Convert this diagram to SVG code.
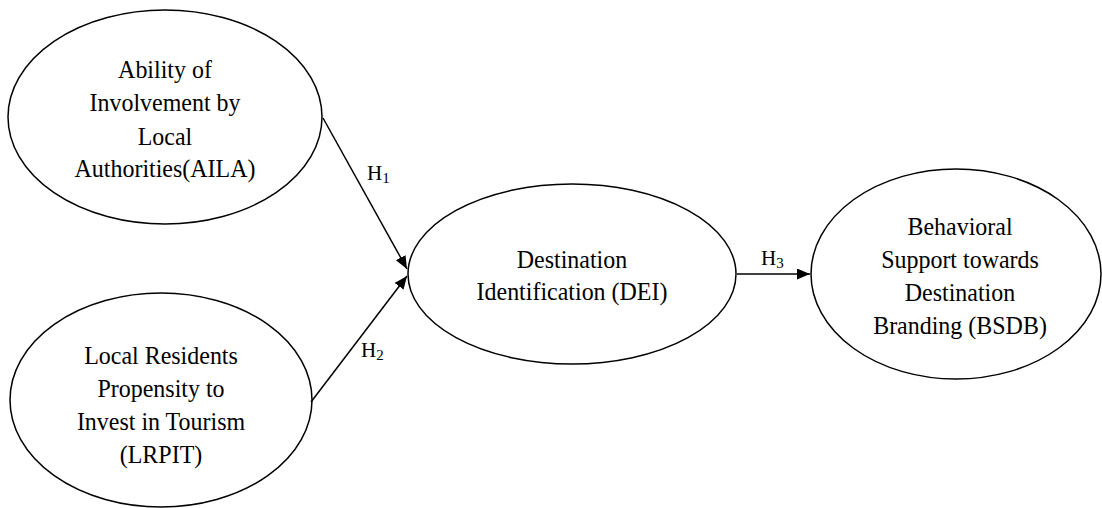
<svg xmlns="http://www.w3.org/2000/svg" width="1102" height="508" viewBox="0 0 1102 508">
<defs>
<style>
.node ellipse{fill:#fff;stroke:#000;stroke-width:1.5}
.node text{font-family:"Liberation Serif","Times New Roman",serif;font-size:25.5px;fill:#000;text-anchor:middle}
.conn line{stroke:#000;stroke-width:1.5}
.lbl{font-family:"Liberation Serif","Times New Roman",serif;font-size:21px;fill:#000}
.sub{font-size:15px}
</style>
<marker id="arr" markerUnits="userSpaceOnUse" markerWidth="14" markerHeight="12" refX="13" refY="5.5" orient="auto">
<path d="M0,0 L13,5.5 L0,11 Z" fill="#000"/>
</marker>
</defs>
<rect width="1102" height="508" fill="#fff"/>
<g id="AILA" class="node">
<ellipse cx="165" cy="117" rx="157" ry="107"/>
<g transform="translate(165 0) scale(0.94 1)">
<text x="0" y="78">Ability of</text>
<text x="0" y="111">Involvement by</text>
<text x="0" y="145">Local</text>
<text x="0" y="177">Authorities(AILA)</text>
</g>
</g>
<g id="LRPIT" class="node">
<ellipse cx="161" cy="400" rx="151" ry="107"/>
<g transform="translate(161 0) scale(0.94 1)">
<text x="0" y="364">Local Residents</text>
<text x="0" y="397">Propensity to</text>
<text x="0" y="430">Invest in Tourism</text>
<text x="0" y="463">(LRPIT)</text>
</g>
</g>
<g id="DEI" class="node">
<ellipse cx="572" cy="274" rx="164" ry="90"/>
<g transform="translate(572 0) scale(0.94 1)">
<text x="0" y="268">Destination</text>
<text x="0" y="300">Identification (DEI)</text>
</g>
</g>
<g id="BSDB" class="node">
<ellipse cx="956" cy="274" rx="145" ry="105"/>
<g transform="translate(960 0) scale(0.94 1)">
<text x="0" y="235">Behavioral</text>
<text x="0" y="268">Support towards</text>
<text x="0" y="301">Destination</text>
<text x="0" y="334">Branding (BSDB)</text>
</g>
</g>
<g id="connectors" class="conn">
<line x1="323" y1="118" x2="407" y2="269" marker-end="url(#arr)"/>
<line x1="311" y1="402" x2="407" y2="276" marker-end="url(#arr)"/>
<line x1="737" y1="274" x2="810" y2="274" marker-end="url(#arr)"/>
<text class="lbl" x="367" y="180">H<tspan class="sub" dy="3">1</tspan></text>
<text class="lbl" x="361" y="357">H<tspan class="sub" dy="3">2</tspan></text>
<text class="lbl" x="761" y="265">H<tspan class="sub" dy="3">3</tspan></text>
</g>
</svg>
